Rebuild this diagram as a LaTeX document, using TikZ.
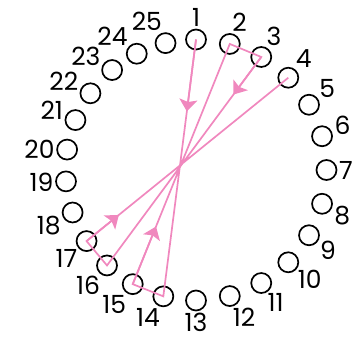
\documentclass[tikz,border=0pt]{standalone}
\usepackage{fontspec}
\setmainfont{Poppins}
\usepackage{tikz}
\usetikzlibrary{arrows.meta,calc}
\definecolor{LinkPink}{HTML}{F088BE}

\begin{document}
\begin{tikzpicture}[x=1pt,y=1pt,
  seat/.style={draw,circle,line width=1.7pt,minimum size=20pt,inner sep=0pt},
  link/.style={LinkPink,line width=1.7pt},
  tip/.style={link,-{Stealth[length=12pt,width=18pt,inset=2.5pt]}}]
\useasboundingbox (0,0) rectangle (363,341);
\coordinate (o) at (196,171);
\foreach \i/\ang/\lang in {1/90/90,2/75/79,3/60/65,4/45/53,5/30/34,6/15/6,7/0/0,8/-15/-8,9/-30/-27,10/-45/-40,11/-60/-60,12/-75/-76,13/-90/-90,14/-104.5/-106,15/-119/-121,16/-133/-124,17/-147/-138,18/-161/-164,19/-175/-178,20/171/180,21/157.5/176,22/144/166,23/130/159,24/117/137,25/103.5/106}
  {\node[seat,label={[inner sep=0pt,label distance=1.5pt,font=\fontsize{25}{25}\selectfont]\lang:\i}] (c\i) at ($(o)+(\ang:130.5)$) {};}
\draw[link] (c1.center)--(c14.center)--(c15.center)--(c2.center)--(c3.center)--(c16.center)--(c17.center)--(c4.center);
\draw[tip] (c1.center)--($(c1)!0.28!(c14)$);
\draw[tip] (c15.center)--($(c15)!0.24!(c2)$);
\draw[tip] (c3.center)--($(c3)!0.18!(c16)$);
\draw[tip] (c17.center)--($(c17)!0.16!(c4)$);
\end{tikzpicture}
\end{document}
